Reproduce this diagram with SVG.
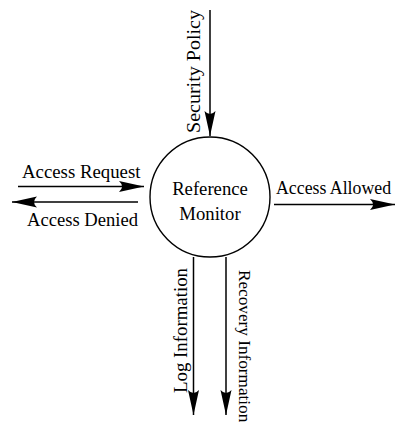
<svg xmlns="http://www.w3.org/2000/svg" width="395" height="428" viewBox="0 0 395 428">
<style>
text{font-family:"Liberation Serif","Times New Roman",serif;font-size:18.7px;fill:#000}
.ln{stroke:#000;stroke-width:1.5;fill:none;marker-end:url(#ah)}
</style>
<defs>
<marker id="ah" markerUnits="userSpaceOnUse" viewBox="-26 -6 27 12" markerWidth="27" markerHeight="12" refX="0" refY="0" orient="auto">
<path d="M0,0 L-25,-5.5 Q-19,0 -25,5.5 Z" fill="#000"/>
</marker>
</defs>
<rect width="395" height="428" fill="#fff"/>
<g id="monitor">
<circle cx="210" cy="197" r="60" fill="none" stroke="#000" stroke-width="1.4"/>
<text x="210" y="195" text-anchor="middle">Reference</text>
<text x="210" y="220" text-anchor="middle">Monitor</text>
</g>
<g id="connectors">
<g id="security-policy">
<line class="ln" x1="210" y1="10" x2="210" y2="136"/>
<text transform="translate(200,133) rotate(-90)" textLength="123" lengthAdjust="spacingAndGlyphs">Security Policy</text>
</g>
<g id="access-request">
<line class="ln" x1="18" y1="186.5" x2="144" y2="186.5"/>
<text x="22" y="178.3" textLength="118.5" lengthAdjust="spacingAndGlyphs">Access Request</text>
</g>
<g id="access-denied">
<line class="ln" x1="138" y1="202" x2="12" y2="202"/>
<text x="27" y="226" textLength="111" lengthAdjust="spacingAndGlyphs">Access Denied</text>
</g>
<g id="access-allowed">
<line class="ln" x1="274" y1="204.5" x2="395" y2="204.5"/>
<text x="276" y="194" style="font-size:17.8px">Access Allowed</text>
</g>
<g id="log-information">
<line class="ln" x1="193.5" y1="257" x2="193.5" y2="415"/>
<text transform="translate(187,393) rotate(-90)" textLength="125" lengthAdjust="spacingAndGlyphs">Log Information</text>
</g>
<g id="recovery-information">
<line class="ln" x1="226" y1="257" x2="226" y2="415"/>
<text transform="translate(239,270) rotate(90)" style="font-size:17.2px">Recovery Information</text>
</g>
</g>
</svg>
